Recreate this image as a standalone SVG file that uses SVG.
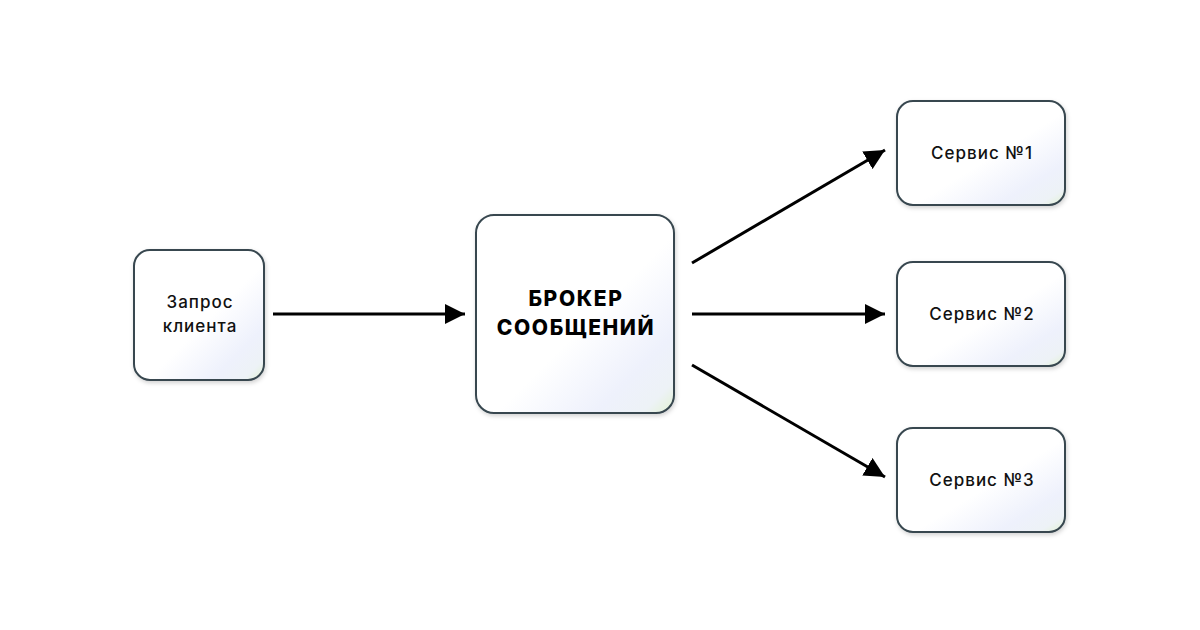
<svg xmlns="http://www.w3.org/2000/svg" width="1200" height="630" viewBox="0 0 1200 630">
<defs>
<linearGradient id="g" x1="0" y1="0" x2="1" y2="1">
<stop offset="0" stop-color="#ffffff"/>
<stop offset="0.55" stop-color="#ffffff"/>
<stop offset="0.8" stop-color="#eef1fc"/>
<stop offset="0.92" stop-color="#edf2f6"/>
<stop offset="1" stop-color="#e2f2d2"/>
</linearGradient>
<filter id="sh" x="-10%" y="-10%" width="120%" height="120%">
<feDropShadow dx="1" dy="2" stdDeviation="2" flood-color="#000" flood-opacity="0.18"/>
</filter>
<marker id="ah" viewBox="0 0 10 10" refX="10" refY="5" markerWidth="6.8" markerHeight="6.8" orient="auto" markerUnits="strokeWidth">
<path d="M0,0 L10,5 L0,10 z" fill="#000"/>
</marker>
<style>
.box{fill:url(#g);stroke:#37474f;stroke-width:2;filter:url(#sh)}
.t{font-family:Inter,"Noto Sans",sans-serif;font-size:17px;font-weight:500;fill:#111;text-anchor:middle;letter-spacing:1px}
.tb{font-family:Inter,"Noto Sans",sans-serif;font-size:21px;font-weight:800;fill:#000;text-anchor:middle;letter-spacing:1.6px}
.c{stroke:#000;stroke-width:3;fill:none;marker-end:url(#ah)}
</style>
</defs>
<rect width="1200" height="630" fill="#fff"/>
<g id="connectors">
<line class="c" x1="273" y1="314" x2="465" y2="314"/>
<line class="c" x1="692" y1="314" x2="885" y2="314"/>
<line class="c" x1="692" y1="263" x2="885" y2="150"/>
<line class="c" x1="692" y1="365" x2="885" y2="477"/>
</g>
<g id="client">
<rect class="box" x="134" y="250" width="130" height="130" rx="16"/>
<text class="t" x="200" y="308">Запрос</text>
<text class="t" x="200" y="332">клиента</text>
</g>
<g id="broker">
<rect class="box" x="476" y="215" width="198" height="198" rx="18"/>
<text class="tb" x="576" y="306">БРОКЕР</text>
<text class="tb" x="576" y="335">СООБЩЕНИЙ</text>
</g>
<g id="service1">
<rect class="box" x="897" y="101" width="168" height="104" rx="16"/>
<text class="t" x="982" y="159">Сервис №1</text>
</g>
<g id="service2">
<rect class="box" x="897" y="262" width="168" height="104" rx="16"/>
<text class="t" x="982" y="320">Сервис №2</text>
</g>
<g id="service3">
<rect class="box" x="897" y="428" width="168" height="104" rx="16"/>
<text class="t" x="982" y="486">Сервис №3</text>
</g>
</svg>
